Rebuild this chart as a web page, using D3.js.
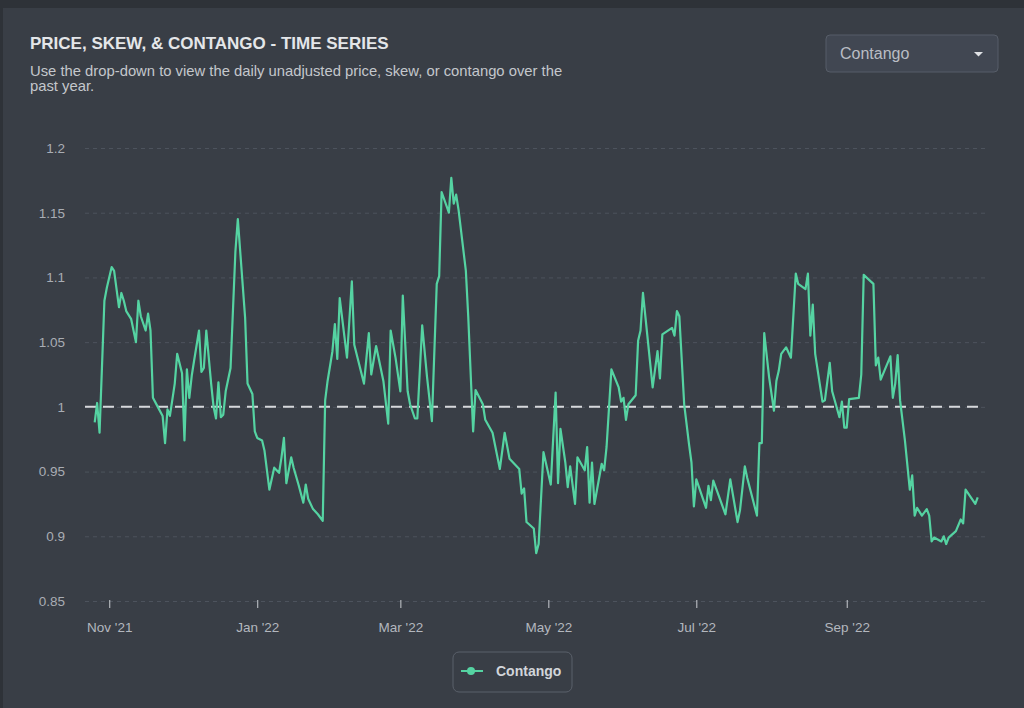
<!DOCTYPE html>
<meta charset="utf-8">
<script src="https://cdn.jsdelivr.net/npm/d3@7"></script>
<style>
body { margin: 0; background: #2e3238; }
text { font-family: "Liberation Sans", Arial, sans-serif; }
.grid line { stroke: #4d535d; stroke-dasharray: 4,4; }
.ylab text { fill: #a9adb4; font-size: 13.5px; }
.xlab text { fill: #b3b7be; font-size: 13.5px; }
</style>
<body>
<script>

// trading dates
var dates = [
  "2021-10-26","2021-10-27","2021-10-28","2021-10-30","2021-10-31",
  "2021-11-02","2021-11-03","2021-11-05","2021-11-06","2021-11-07","2021-11-08","2021-11-10","2021-11-12","2021-11-13","2021-11-14","2021-11-16","2021-11-17","2021-11-18","2021-11-19","2021-11-21","2021-11-23","2021-11-24","2021-11-25","2021-11-26","2021-11-28","2021-11-29",
  "2021-12-01","2021-12-02","2021-12-03","2021-12-04","2021-12-05","2021-12-06","2021-12-08","2021-12-09","2021-12-10","2021-12-11","2021-12-13","2021-12-14","2021-12-15","2021-12-16","2021-12-17","2021-12-18","2021-12-19","2021-12-21","2021-12-23","2021-12-24","2021-12-27","2021-12-28","2021-12-30","2021-12-31",
  "2022-01-01","2022-01-03","2022-01-04","2022-01-06","2022-01-08","2022-01-10","2022-01-11","2022-01-12","2022-01-13","2022-01-15","2022-01-16","2022-01-18","2022-01-20","2022-01-21","2022-01-22","2022-01-24","2022-01-26","2022-01-28","2022-01-29","2022-01-30",
  "2022-02-01","2022-02-02","2022-02-03","2022-02-04","2022-02-07","2022-02-09","2022-02-10","2022-02-14","2022-02-16","2022-02-17","2022-02-19","2022-02-22","2022-02-24","2022-02-25","2022-02-27",
  "2022-03-01","2022-03-02","2022-03-04","2022-03-05","2022-03-07","2022-03-08","2022-03-10","2022-03-12","2022-03-14","2022-03-16","2022-03-17","2022-03-18","2022-03-21","2022-03-22","2022-03-23","2022-03-24","2022-03-25","2022-03-28","2022-03-29","2022-03-31",
  "2022-04-01","2022-04-04","2022-04-05","2022-04-08","2022-04-11","2022-04-13","2022-04-15","2022-04-19","2022-04-20","2022-04-21","2022-04-22","2022-04-25","2022-04-26","2022-04-27","2022-04-29",
  "2022-05-02","2022-05-04","2022-05-05","2022-05-06","2022-05-08","2022-05-09","2022-05-10","2022-05-12","2022-05-13","2022-05-16","2022-05-17","2022-05-18","2022-05-19","2022-05-20","2022-05-23","2022-05-24","2022-05-25","2022-05-27","2022-05-30","2022-05-31",
  "2022-06-01","2022-06-02","2022-06-03","2022-06-06","2022-06-07","2022-06-08","2022-06-09","2022-06-13","2022-06-15","2022-06-16","2022-06-17","2022-06-21","2022-06-22","2022-06-23","2022-06-24","2022-06-26","2022-06-28","2022-06-29","2022-06-30",
  "2022-07-01","2022-07-03","2022-07-05","2022-07-06","2022-07-07","2022-07-08","2022-07-13","2022-07-15","2022-07-18","2022-07-19","2022-07-21","2022-07-22","2022-07-26","2022-07-27","2022-07-28","2022-07-29","2022-07-31",
  "2022-08-02","2022-08-03","2022-08-04","2022-08-05","2022-08-07","2022-08-09","2022-08-11","2022-08-12","2022-08-15","2022-08-16","2022-08-17","2022-08-18","2022-08-19","2022-08-22","2022-08-23","2022-08-25","2022-08-26","2022-08-29","2022-08-30","2022-08-31",
  "2022-09-01","2022-09-02","2022-09-06","2022-09-07","2022-09-08","2022-09-12","2022-09-13","2022-09-14","2022-09-15","2022-09-19","2022-09-20","2022-09-21","2022-09-22","2022-09-23","2022-09-25","2022-09-27","2022-09-28","2022-09-29","2022-09-30",
  "2022-10-02","2022-10-04","2022-10-05","2022-10-06","2022-10-07","2022-10-10","2022-10-11","2022-10-12","2022-10-13","2022-10-16","2022-10-18","2022-10-19","2022-10-20","2022-10-24","2022-10-25"
];

var contango = [
  0.988,1.003,0.980,1.082,1.092,
  1.108,1.105,1.077,1.088,1.082,1.074,1.068,1.050,1.082,1.070,1.059,1.072,1.059,1.007,1.000,0.993,0.972,0.998,0.993,1.018,1.041,
  1.026,0.974,1.029,1.007,1.024,1.036,1.059,1.027,1.030,1.059,1.018,1.000,0.991,1.019,0.992,0.994,1.012,1.030,1.120,1.145,1.069,1.018,1.010,0.981,
  0.976,0.974,0.966,0.936,0.953,0.949,0.961,0.976,0.941,0.961,0.953,0.940,0.926,0.940,0.929,0.921,0.917,0.912,1.005,1.020,
  1.043,1.064,1.037,1.084,1.038,1.097,1.048,1.018,1.057,1.025,1.047,1.020,0.987,1.059,1.038,
  1.012,1.086,1.012,1.002,0.991,0.991,1.063,1.023,0.989,1.095,1.101,1.166,1.150,1.177,1.157,1.164,1.152,1.105,1.069,0.981,
  1.013,1.002,0.990,0.980,0.952,0.980,0.960,0.952,0.933,0.937,0.911,0.906,0.887,0.894,0.965,
  0.940,1.011,0.941,0.983,0.957,0.938,0.954,0.925,0.961,0.951,0.969,0.926,0.957,0.925,0.956,0.951,0.969,1.029,1.015,1.004,
  1.007,0.990,1.002,1.009,1.051,1.059,1.088,1.015,1.043,1.022,1.056,1.061,1.055,1.074,1.070,1.002,0.971,0.957,0.923,
  0.944,0.933,0.922,0.939,0.928,0.943,0.917,0.944,0.911,0.920,0.954,0.945,0.916,0.972,0.972,1.057,1.023,
  0.997,1.020,1.028,1.041,1.046,1.038,1.103,1.095,1.091,1.103,1.055,1.079,1.041,1.004,1.005,1.034,1.012,0.992,1.004,0.984,
  0.984,1.006,1.007,1.025,1.102,1.095,1.032,1.038,1.021,1.039,1.007,1.018,1.040,1.005,0.974,0.936,0.947,0.916,0.922,
  0.916,0.921,0.916,0.896,0.899,0.896,0.900,0.894,0.899,0.904,0.913,0.910,0.936,0.925,0.930
];

var yTicks = [0.85, 0.9, 0.95, 1, 1.05, 1.1, 1.15, 1.2];
var seriesName = "Contango";
var title = "PRICE, SKEW, & CONTANGO - TIME SERIES";
var subtitle = ["Use the drop-down to view the daily unadjusted price, skew, or contango over the", "past year."];

var width = 1024,
    height = 708;

var parse = d3.timeParse("%Y-%m-%d");
var data = dates.map(function(d, i) { return {date: parse(d), value: contango[i]}; });

var svg = d3.select("body").append("svg")
    .attr("width", width)
    .attr("height", height);

// panel
svg.append("rect")
    .attr("x", 3).attr("y", 8)
    .attr("width", width - 3).attr("height", height - 8)
    .attr("fill", "#393e46");

svg.append("text")
    .attr("x", 30).attr("y", 49)
    .attr("fill", "#e4e6e9")
    .style("font-size", "17px")
    .style("font-weight", "bold")
    .text(title);

svg.selectAll(".sub")
    .data(subtitle)
  .enter().append("text")
    .attr("x", 30)
    .attr("y", function(d, i) { return 76 + i * 15; })
    .attr("fill", "#c4c7cc")
    .style("font-size", "14.8px")
    .text(function(d) { return d; });

// dropdown
var dd = svg.append("g").attr("transform", "translate(826,35)");
dd.append("rect")
    .attr("width", 172).attr("height", 37).attr("rx", 4)
    .attr("fill", "#414752").attr("stroke", "#575d68");
dd.append("text")
    .attr("x", 14).attr("y", 24)
    .attr("fill", "#b9bdc4")
    .style("font-size", "16px")
    .text(seriesName);
dd.append("path")
    .attr("d", "M148,17 L157,17 L152.5,21.5 Z")
    .attr("fill", "#e0e2e5");

var x = d3.scaleTime()
    .domain([new Date(2021, 9, 22), new Date(2022, 9, 28)])
    .range([85, 985]);

var y = d3.scaleLinear()
    .domain([0.85, 1.2])
    .range([601, 148]);

// grid lines
svg.append("g")
    .attr("class", "grid")
    .attr("transform", "translate(85,0)")
    .call(d3.axisLeft(y).tickValues(yTicks).tickSize(-900).tickFormat(""))
    .call(function(g) { g.select(".domain").remove(); });

// y labels
svg.append("g")
    .attr("class", "ylab")
    .attr("transform", "translate(68,0)")
    .call(d3.axisLeft(y).tickValues(yTicks).tickSize(0)
      .tickFormat(function(d) { return String(+d.toFixed(2)); }))
    .call(function(g) { g.select(".domain").remove(); });

// x axis
svg.append("g")
    .attr("class", "xlab")
    .attr("transform", "translate(0,600)")
    .call(d3.axisBottom(x).ticks(d3.timeMonth.every(2)).tickSize(8).tickPadding(14)
      .tickFormat(d3.timeFormat("%b '%y")))
    .call(function(g) {
      g.select(".domain").remove();
      g.selectAll(".tick line").attr("stroke", "#c9ccd1");
    });

// reference line at 1
svg.append("line")
    .attr("x1", 85).attr("x2", 985)
    .attr("y1", y(1)).attr("y2", y(1))
    .attr("stroke", "#d6d8db")
    .attr("stroke-width", 2)
    .attr("stroke-dasharray", "11,7");

var line = d3.line()
    .x(function(d) { return x(d.date); })
    .y(function(d) { return y(d.value); });

svg.append("path")
    .datum(data)
    .attr("fill", "none")
    .attr("stroke", "#55d3a2")
    .attr("stroke-width", 2.2)
    .attr("stroke-linejoin", "round")
    .attr("d", line);

// legend
var lg = svg.append("g").attr("transform", "translate(453,652)");
lg.append("rect")
    .attr("width", 119).attr("height", 40).attr("rx", 6)
    .attr("fill", "none").attr("stroke", "#5a606a");
lg.append("line")
    .attr("x1", 8).attr("x2", 30).attr("y1", 19).attr("y2", 19)
    .attr("stroke", "#55d3a2").attr("stroke-width", 2);
lg.append("circle")
    .attr("cx", 18).attr("cy", 19).attr("r", 4)
    .attr("fill", "#55d3a2");
lg.append("text")
    .attr("x", 43).attr("y", 24)
    .attr("fill", "#d2d5da")
    .style("font-size", "14px")
    .style("font-weight", "bold")
    .text(seriesName);

</script>
</body>
